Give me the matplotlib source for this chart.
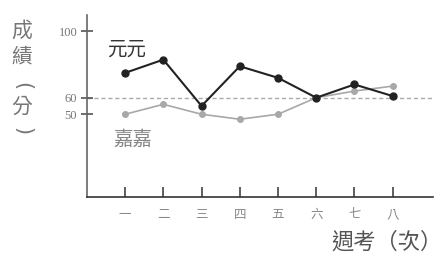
import matplotlib.pyplot as plt

plt.rcParams['font.family'] = ['Noto Sans CJK TC', 'DejaVu Sans']

weeks = ["一", "二", "三", "四", "五", "六", "七", "八"]
yuanyuan = [75, 83, 55, 79, 72, 60, 68, 61]
jiajia = [50, 56, 50, 47, 50, 60, 64, 67]
y_ticks = [50, 60, 100]

x = list(range(1, len(weeks) + 1))

fig = plt.figure(figsize=(4.48, 2.62), dpi=100)
ax = fig.add_axes([0.194, 0.248, 0.772, 0.695])

ax.axhline(60, color="#aaaaaa", linestyle=(0, (3, 2)), linewidth=1, zorder=1)
ax.plot(x, jiajia, color="#a8a8a8", marker="o", markersize=4, linewidth=1.2, zorder=2)
ax.plot(x, yuanyuan, color="#222222", marker="o", markersize=5, linewidth=1.5, zorder=3)

ax.set_xlim(0, 9.05)
ax.set_ylim(0, 110)
ax.set_xticks(x)
ax.set_xticklabels(weeks, fontsize=9, color="#888888")
ax.set_yticks(y_ticks)
ax.set_yticklabels([str(v) for v in y_ticks], fontsize=9, color="#777777",
                   family=["Liberation Serif", "DejaVu Serif"])
ax.tick_params(axis="x", direction="in", length=7, width=1.2, color="#444444", pad=8)
ax.tick_params(axis="y", direction="inout", length=8, width=1.2, color="#555555", pad=3)

for s in ["top", "right"]:
    ax.spines[s].set_visible(False)
ax.spines["left"].set_color("#666666")
ax.spines["bottom"].set_color("#333333")
ax.spines["left"].set_linewidth(1.2)
ax.spines["bottom"].set_linewidth(1.2)

ax.text(1.05, 89, "元元", fontsize=14, color="#333333", ha="center", va="center")
ax.text(1.2, 35, "嘉嘉", fontsize=14, color="#888888", ha="center", va="center")

# vertical y-axis title, one character per line (brackets turned sideways)
ylabel_chars = ["成", "績", "(", "分", ")"]
ylabel_rot = [0, 0, 270, 0, 270]
ylabel_pos = [31, 57, 86, 107, 131]
for ch, rot, py in zip(ylabel_chars, ylabel_rot, ylabel_pos):
    fam = ["DejaVu Sans"] if rot else ["Noto Sans CJK TC", "DejaVu Sans"]
    fig.text(22 / 448, 1 - py / 262, ch, fontsize=15, color="#777777",
             ha="center", va="center", rotation=rot, family=fam)

fig.text(331 / 448, 1 - 242 / 262, "週考（次）", fontsize=16, color="#555555",
         ha="left", va="center")

fig.savefig("out.png", dpi=100)
